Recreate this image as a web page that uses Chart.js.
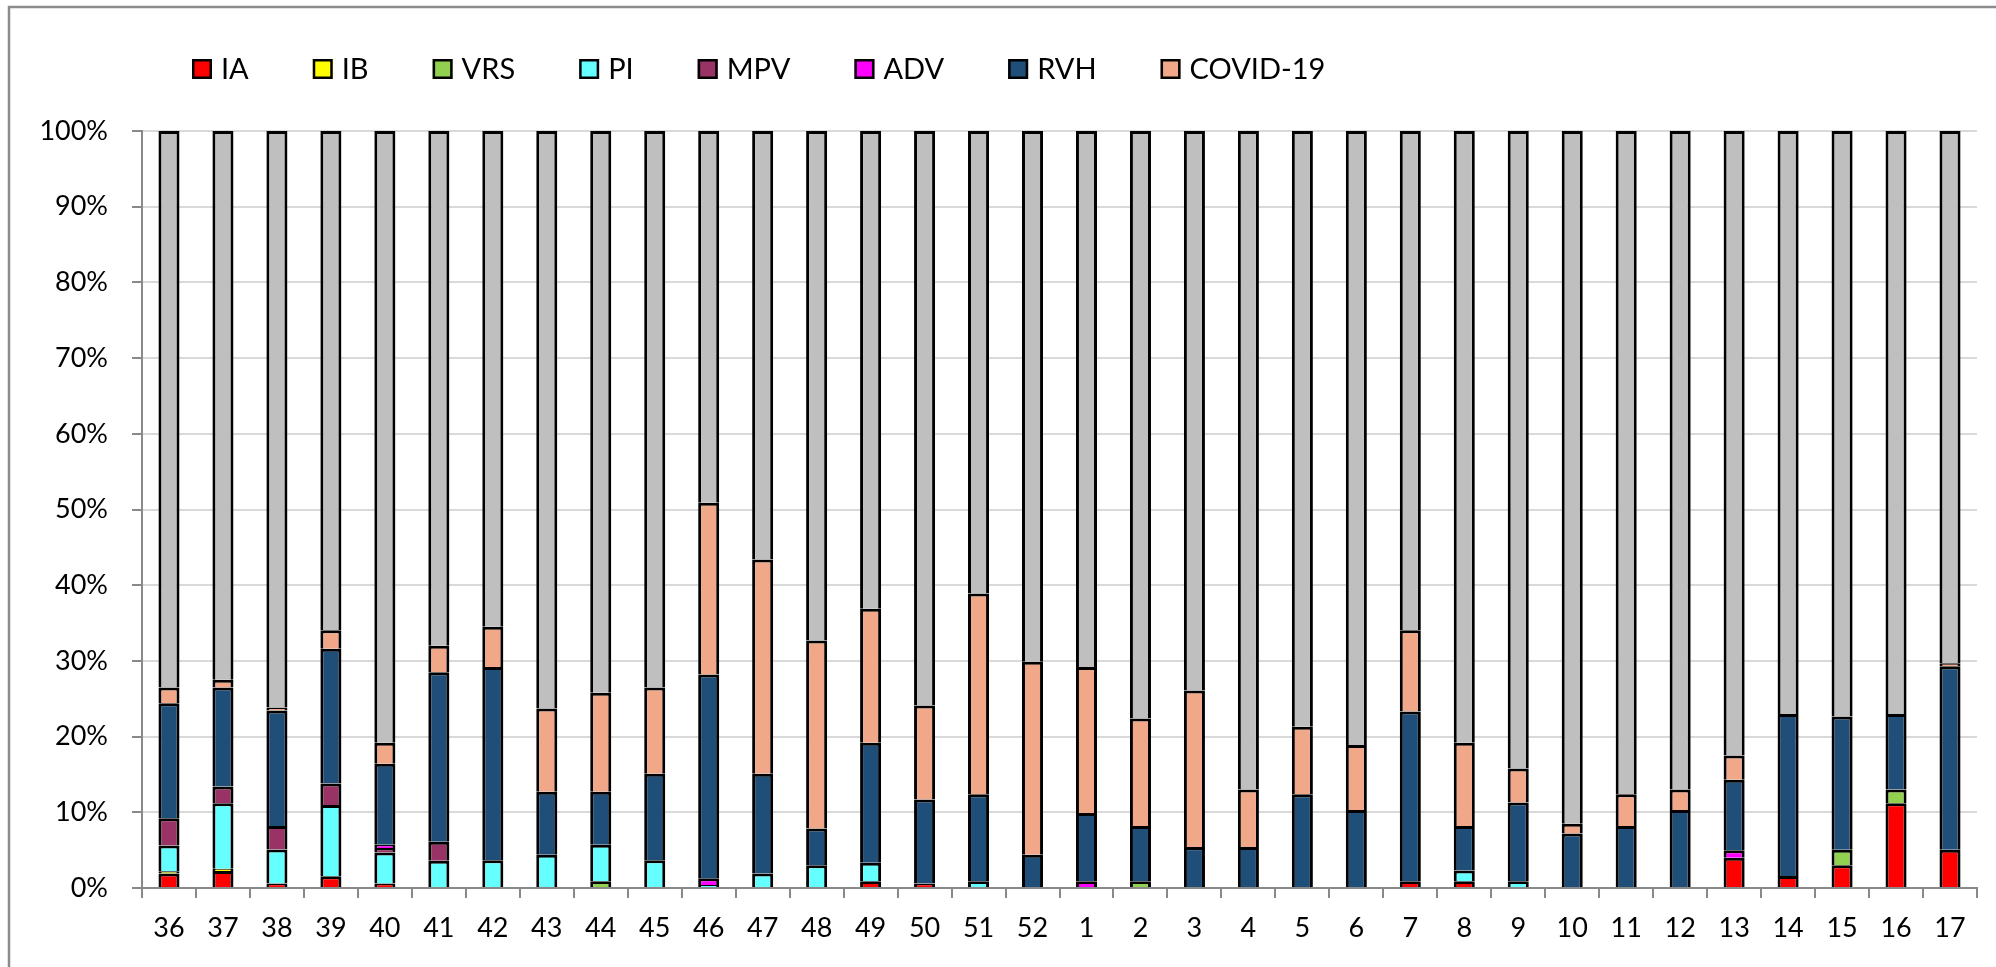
<!DOCTYPE html>
<html>
<head>
<meta charset="utf-8">
<script src="https://cdn.jsdelivr.net/npm/chart.js@4"></script>
<style>
  html, body { margin: 0; padding: 0; background: #fff; overflow: hidden; }
  #wrap { position: relative; width: 1996px; height: 967px; }
</style>
</head>
<body>
<div id="wrap"><canvas id="chart"></canvas></div>
<script>
// Semaines (axe X)
const weeks = ['36','37','38','39','40','41','42','43','44','45','46','47','48','49','50','51','52',
               '1','2','3','4','5','6','7','8','9','10','11','12','13','14','15','16','17'];

// Pourcentages
const ia      = [1.9, 2.25, 0.6, 1.55, 0.6, 0, 0, 0, 0, 0, 0, 0, 0, 0.9, 0.6, 0, 0,
                 0, 0, 0, 0, 0, 0, 0.9, 0.9, 0, 0, 0, 0, 4.0, 1.6, 3.0, 11.2, 5.05];
const ib      = [0.3, 0.3, 0, 0, 0, 0, 0, 0, 0, 0, 0, 0, 0, 0, 0, 0, 0,
                 0, 0, 0, 0, 0, 0, 0, 0, 0, 0, 0, 0, 0, 0, 0, 0, 0];
const vrs     = [0, 0, 0, 0, 0, 0, 0, 0, 0.9, 0, 0, 0, 0, 0, 0, 0, 0,
                 0, 0.9, 0, 0, 0, 0, 0, 0, 0, 0, 0, 0, 0, 0, 2.05, 1.8, 0];
const pi      = [3.4, 8.65, 4.5, 9.4, 4.1, 3.6, 3.65, 4.4, 4.8, 3.65, 0.4, 1.9, 3.0, 2.45, 0, 0.9, 0,
                 0, 0, 0, 0, 0, 0, 0, 1.4, 0.9, 0, 0, 0, 0, 0, 0, 0, 0];
const mpv     = [3.6, 2.2, 3.1, 2.85, 0.6, 2.5, 0, 0, 0, 0, 0, 0, 0, 0, 0, 0, 0,
                 0, 0, 0, 0, 0, 0, 0, 0, 0, 0, 0, 0, 0, 0, 0, 0, 0];
const adv     = [0, 0, 0, 0, 0.4, 0, 0, 0, 0, 0, 0.9, 0, 0, 0, 0, 0, 0,
                 0.9, 0, 0, 0, 0, 0, 0, 0, 0, 0, 0, 0, 1.0, 0, 0, 0, 0];
const rvh     = [15.2, 13.1, 15.25, 17.8, 10.7, 22.4, 25.55, 8.3, 7.0, 11.45, 26.9, 13.2, 4.85, 15.85, 11.1, 11.5, 4.4,
                 9.0, 7.3, 5.4, 5.4, 12.4, 10.3, 22.4, 5.9, 10.4, 7.2, 8.2, 10.3, 9.3, 21.4, 17.6, 10.0, 24.25];
const covid   = [2.1, 1.0, 0.4, 2.45, 2.8, 3.5, 5.3, 11.0, 13.1, 11.4, 22.7, 28.3, 24.85, 17.7, 12.4, 26.5, 25.5,
                 19.3, 14.2, 20.7, 7.6, 8.9, 8.6, 10.75, 11.0, 4.5, 1.3, 4.2, 2.7, 3.2, 0, 0, 0, 0.4];
// reste (gris, hors légende)
const negatif = [73.5, 72.5, 76.15, 65.95, 80.8, 68.0, 65.5, 76.3, 74.2, 73.5, 49.1, 56.6, 67.3, 63.1, 75.9, 61.1, 70.1,
                 70.8, 77.6, 73.9, 87.0, 78.7, 81.1, 65.95, 80.8, 84.2, 91.5, 87.6, 87.0, 82.5, 77.0, 77.35, 77.0, 70.3];

const yTicks = [0, 10, 20, 30, 40, 50, 60, 70, 80, 90, 100];

Chart.defaults.font.family = 'Lato';

function serie(label, data, color, inLegend = true) {
    return {
        label: label,
        data: data,
        backgroundColor: color,
        borderColor: '#000000',
        borderWidth: 3,
        barPercentage: 0.39,
        categoryPercentage: 1,
        inLegend: inLegend
    };
}

// Légende dessinée à la façon d'Excel (calée à gauche, grands espacements)
const excelLegend = {
    id: 'excelLegend',
    beforeDraw(chart) {
        const ctx = chart.ctx;
        ctx.save();
        ctx.fillStyle = '#ffffff';
        ctx.fillRect(0, 0, chart.width, chart.height);
        ctx.strokeStyle = '#8c8c8c';
        ctx.lineWidth = 2.5;
        ctx.beginPath();
        ctx.moveTo(9, chart.height + 5);
        ctx.lineTo(9, 7);
        ctx.lineTo(chart.width + 5, 7);
        ctx.stroke();
        ctx.restore();
    },
    afterDraw(chart) {
        const ctx = chart.ctx;
        ctx.save();
        ctx.font = '29px Lato';
        ctx.textBaseline = 'middle';
        let x = 192;
        const y = 69;
        chart.data.datasets.forEach(ds => {
            if (!ds.inLegend) return;
            ctx.fillStyle = ds.backgroundColor;
            ctx.fillRect(x, y - 10, 20, 20);
            ctx.strokeStyle = '#000';
            ctx.lineWidth = 2.5;
            ctx.strokeRect(x + 1.25, y - 8.75, 17.5, 17.5);
            ctx.fillStyle = '#000';
            ctx.fillText(ds.label, x + 29, y + 1);
            x += 29 + ctx.measureText(ds.label).width + 64;
        });
        ctx.restore();
    }
};

const ctx = document.getElementById('chart').getContext('2d');
new Chart(ctx, {
    type: 'bar',
    data: {
        labels: weeks,
        datasets: [
            serie('IA', ia, '#FF0000'),
            serie('IB', ib, '#FFFF00'),
            serie('VRS', vrs, '#92D050'),
            serie('PI', pi, '#66FFFF'),
            serie('MPV', mpv, '#993366'),
            serie('ADV', adv, '#FF00FF'),
            serie('RVH', rvh, '#1F4E79'),
            serie('COVID-19', covid, '#F0A889'),
            serie('Négatifs', negatif, '#BFBFBF', false)
        ]
    },
    options: {
        responsive: true,
        maintainAspectRatio: false,
        animation: false,
        layout: { padding: { top: 131, right: 19, bottom: 0, left: 0 } },
        plugins: {
            legend: { display: false },
            tooltip: { enabled: false }
        },
        scales: {
            x: {
                stacked: true,
                grid: { drawOnChartArea: false, offset: true, tickColor: '#898989', tickLength: 10, lineWidth: 2 },
                border: { color: '#898989', width: 2 },
                ticks: { color: '#000', font: { size: 27 }, padding: 14, maxRotation: 0, autoSkip: false },
                afterFit: s => { s.height = 79; }
            },
            y: {
                stacked: true,
                min: 0,
                max: 100,
                afterBuildTicks: s => { s.ticks = yTicks.map(v => ({ value: v })); },
                ticks: { color: '#000', font: { size: 27 }, padding: 24, callback: v => v + '%' },
                grid: { color: '#d9d9d9', lineWidth: 2, tickColor: '#898989', tickLength: 10 },
                border: { color: '#898989', width: 2 },
                afterFit: s => { s.width = 142; }
            }
        }
    },
    plugins: [excelLegend]
});
</script>
</body>
</html>
